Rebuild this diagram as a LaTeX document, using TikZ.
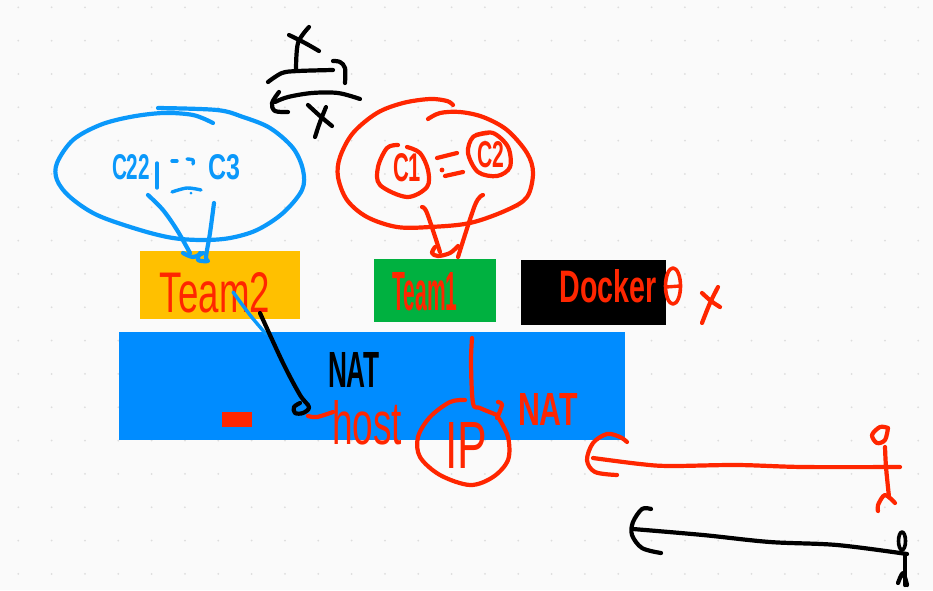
\documentclass[tikz,border=0pt]{standalone}
\usepackage{graphicx}
\usepackage{fontspec}
\setmainfont{Liberation Sans}
\definecolor{paper}{HTML}{FAFAFA}
\definecolor{gdot}{HTML}{DDDDDD}
\definecolor{inkblue}{HTML}{0A98FA}
\definecolor{inkred}{HTML}{FF2600}
\definecolor{amber}{HTML}{FFC000}
\definecolor{grass}{HTML}{00B140}
\definecolor{host}{HTML}{008CFF}
\newcommand{\inkline}[3][4.2pt]{\draw[ink,draw=#2,line width=#1] plot[smooth,tension=.55] coordinates {#3};}
\newcommand{\hand}[3]{\resizebox{#1pt}{#2pt}{#3}}
\tikzset{
 ink/.style={line cap=round,line join=round},
 block/.style={draw=none,inner sep=0pt,outer sep=0pt},
 script/.style={inner sep=0pt,outer sep=0pt,anchor=center}
}
\begin{document}
\begin{tikzpicture}[x=1pt,y=-1pt]
\useasboundingbox (0,0) rectangle (933,590);
\fill[paper] (0,0) rectangle (933,590);
\foreach \i in {0,...,27}{\foreach \j in {0,...,17}{
  \fill[gdot] ({18.3+33.33*\i},{7.3+33.33*\j}) circle (1pt);}}
% blocks
\node[block,fill=host,minimum width=506pt,minimum height=108pt] (hostbox) at (372,386) {};
\node[block,fill=amber,minimum width=160pt,minimum height=68pt] (team2box) at (220,285) {};
\node[block,fill=grass,minimum width=122pt,minimum height=63pt] (team1box) at (435,290.5) {};
\node[block,fill=black,minimum width=145pt,minimum height=65pt] (dockerbox) at (593.5,292.5) {};
\node[block,fill=inkred,minimum width=30pt,minimum height=15pt] (redbar) at (237,419.5) {};
% black X over arrow
\inkline{black}{(309,27)(298,43)(296,70)}
\inkline{black}{(289,35)(305,43)(319,51)}
\inkline{black}{(268,82)(282,73)(298,71)(333,70)}
\inkline{black}{(333,61)(340,62)(345,68)(345,83)}
\inkline{black}{(360,99)(338,93)(312,93)(288,97)(275,102)}
\inkline{black}{(279,92)(272,103)(275,111)(288,112)}
\inkline{black}{(308,105)(320,116)(332,126)}
\inkline{black}{(326,107)(320,122)(315,137)}
% blue cloud
\inkline{inkblue}{(158,108)(217,110)(243,117)(270,128)(293,148)(303,170)(302,190)(283,213)(257,230)(230,238)(203,240)(173,238)(140,230)(97,215)(70,197)(57,180)(57,163)(73,140)(100,125)(130,117)(163,113)(193,115)(213,123)}
\node[script,text=inkblue,font=\bfseries] (c22) at (131,167) {\hand{38}{25}{C22}};
\node[script,text=inkblue,font=\bfseries] (c3) at (224,167) {\hand{32}{25}{C3}};
\inkline[3.4pt]{inkblue}{(157,163)(157,188)}
\inkline[3.4pt]{inkblue}{(172,161)(177,161)}
\inkline[3.4pt]{inkblue}{(187,159)(193,160)(193,164)}
\inkline[3.4pt]{inkblue}{(172,192)(187,188)(201,190)}
\fill[inkblue] (191,193) circle (1.5pt);
\inkline{inkblue}{(148,195)(163,210)(177,230)(190,253)}
\inkline{inkblue}{(183,253)(193,257)(203,253)}
\inkline{inkblue}{(214,203)(210,233)(206,257)(208,261)(198,260)(200,253)}
% red cloud
\inkline{inkred}{(453,105)(447,101)(430,99)(403,103)(377,113)(353,133)(340,157)(338,177)(347,200)(367,217)(397,227)(430,227)(470,223)(507,210)(527,197)(533,173)(527,153)(507,130)(483,117)(460,112)(440,113)(428,119)}
\inkline{inkred}{(398,145)(387,148)(378,167)(380,185)(407,197)(427,187)(428,170)(420,153)(407,147)}
\node[script,text=inkred,font=\bfseries] (c1) at (407,168) {\hand{28}{28}{C1}};
\inkline{inkred}{(488,133)(473,137)(468,153)(478,172)(497,176)(510,167)(508,147)(493,133)(476,135)}
\node[script,text=inkred,font=\bfseries] (c2) at (491,155) {\hand{27}{26}{C2}};
\inkline{inkred}{(437,158)(457,153)}
\inkline{inkred}{(445,176)(463,172)}
\fill[inkred] (442,170) circle (2.4pt);
\inkline{inkred}{(422,207)(427,213)(440,252)}
\inkline{inkred}{(435,247)(432,253)(438,256)(450,253)(458,246)}
\inkline{inkred}{(483,195)(475,205)(458,257)}
% labels on blocks
\node[script,text=inkred] (team2) at (215,293) {\hand{110}{40}{Team2}};
\node[script,text=inkred,font=\bfseries] (team1) at (425,292) {\hand{65}{38}{Team1}};
\node[script,text=inkred,font=\bfseries] (docker) at (608,286) {\hand{97}{33}{Docker}};
\draw[ink,draw=inkred,line width=3.6pt] (673,286) ellipse (7.5pt and 18pt);
\inkline[3.4pt]{inkred}{(666,287)(680,286)}
\inkline{inkred}{(702,293)(711,301)(720,307)}
\inkline{inkred}{(718,287)(710,303)(702,323)}
% links to host
\inkline[3.4pt]{inkblue}{(233,292)(250,315)(266,334)}
\inkline{black}{(260,313)(283,363)(300,395)(309,407)(303,413)(295,413)(294,407)(300,403)}
\node[script,text=black,font=\bfseries] (nat1) at (354,370) {\hand{52}{35}{NAT}};
\inkline{inkred}{(308,416)(317,417)(333,412)}
\node[script,text=inkred] (hostlabel) at (367,423) {\hand{70}{44}{host}};
\inkline{inkred}{(472,338)(471,363)(473,403)(480,408)(497,415)}
\inkline{inkred}{(498,402)(502,405)(497,418)}
\inkline{inkred}{(465,400)(450,402)(430,417)(418,437)(420,457)(440,475)(470,485)(493,477)(508,460)(508,437)(498,417)}
\node[script,text=inkred] (ip) at (466,445) {\hand{42}{46}{IP}};
\node[script,text=inkred,font=\bfseries] (nat2) at (548,409) {\hand{60}{32}{NAT}};
% red actor and arrow
\inkline{inkred}{(627,442)(620,437)(607,434)(593,443)(587,460)(595,472)(617,475)}
\inkline{inkred}{(593,458)(640,464)(670,466)(737,465)(803,467)(900,467)}
\inkline{inkred}{(888,428)(880,427)(872,435)(877,443)(885,440)(888,428)}
\inkline{inkred}{(885,447)(886,467)(889,497)}
\inkline{inkred}{(895,503)(885,495)(878,505)(878,511)}
% black actor and arrow
\inkline{black}{(651,509)(642,509)(633,522)(632,535)(642,548)(661,553)}
\inkline{black}{(633,529)(703,535)(770,542)(837,545)(907,554)}
\draw[ink,draw=black,line width=3.6pt] (902,541) ellipse (3.5pt and 9pt);
\inkline{black}{(905,555)(905,585)}
\inkline{black}{(898,583)(903,573)(907,585)}
\end{tikzpicture}
\end{document}
